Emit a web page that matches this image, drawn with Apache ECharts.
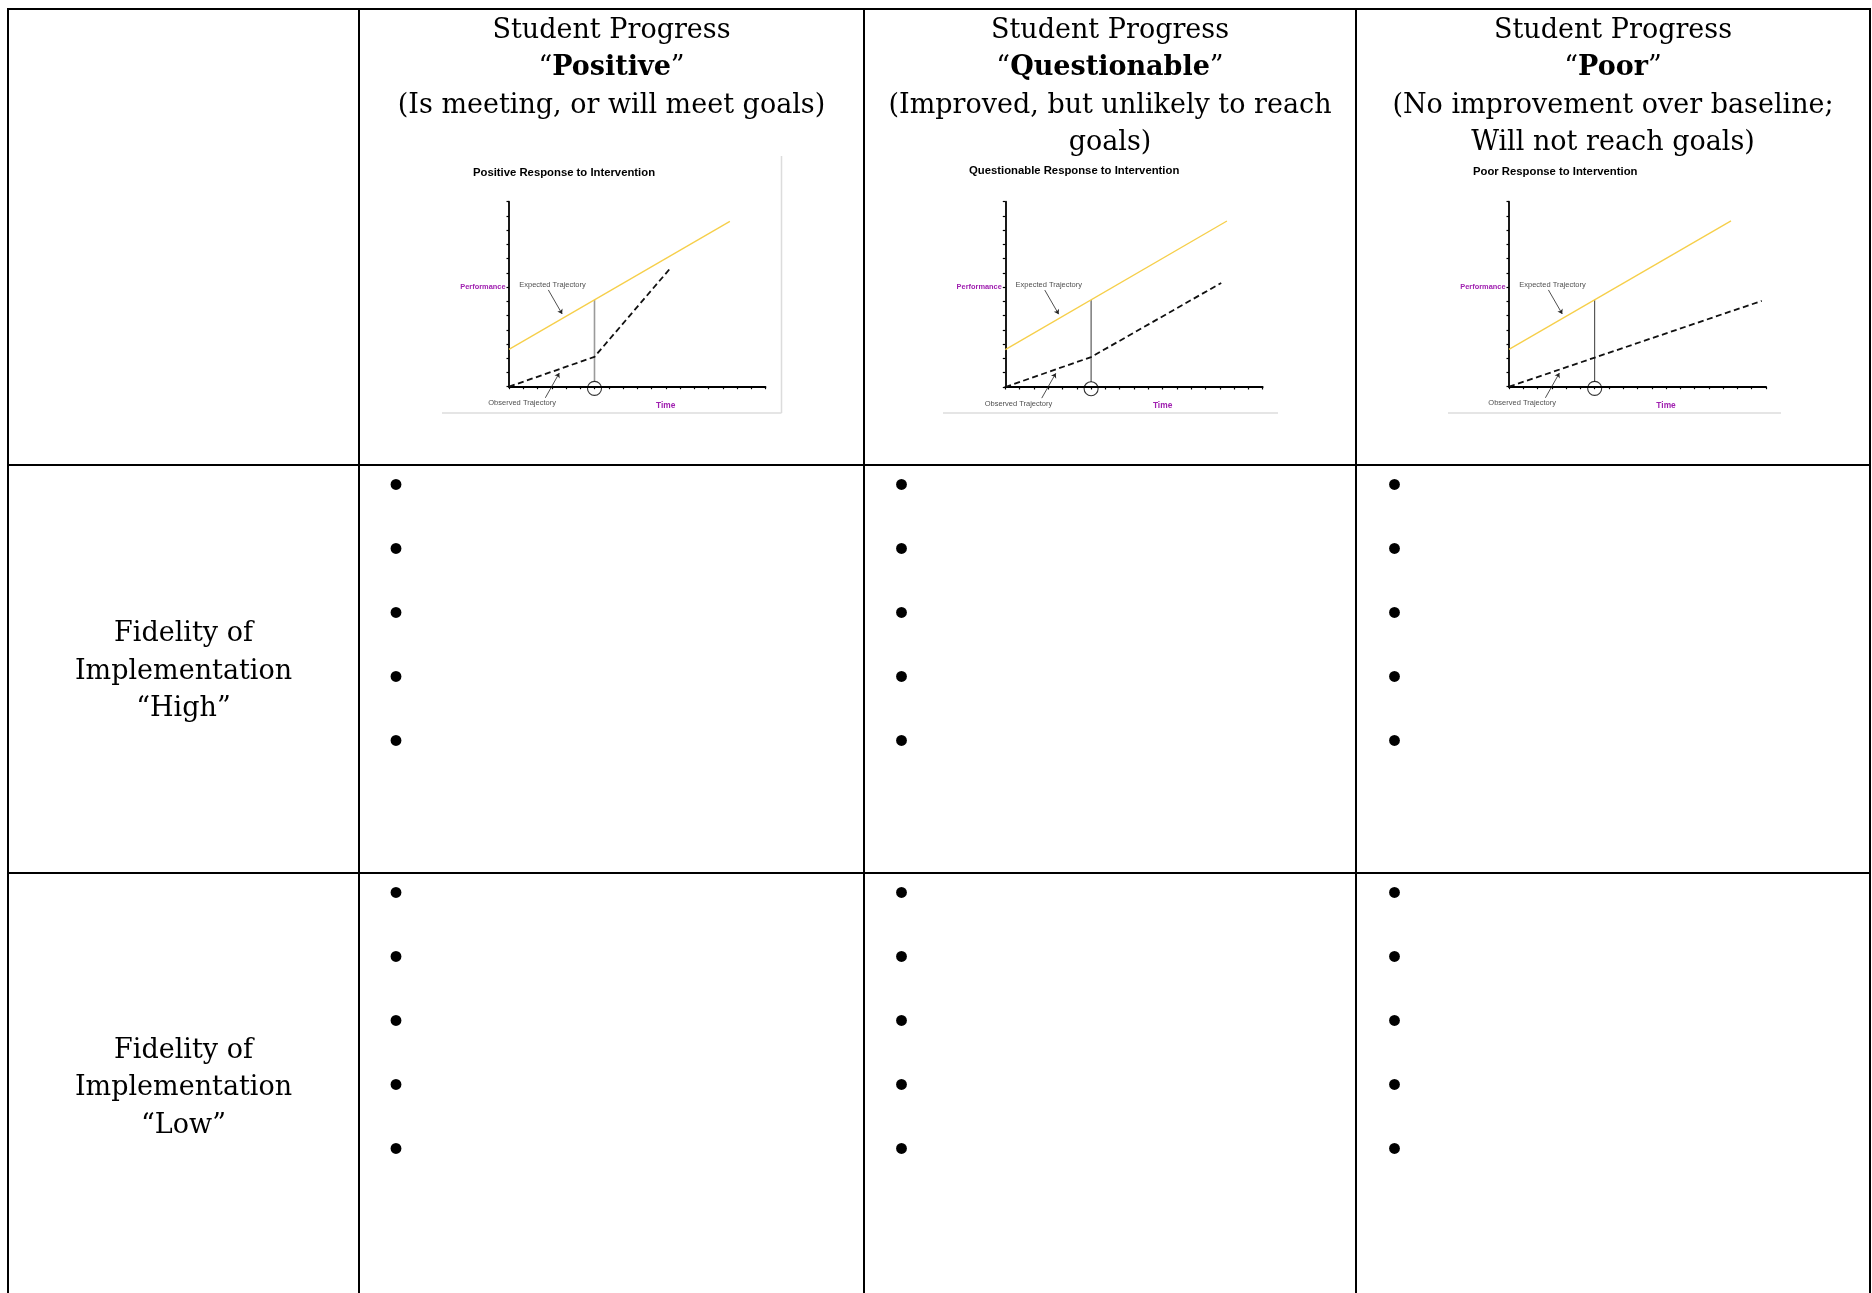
<!DOCTYPE html>
<html>
<head>
<meta charset="utf-8">
<script src="https://cdn.jsdelivr.net/npm/echarts@6/dist/echarts.min.js"></script>
<style>
html,body{margin:0;padding:0;background:#fff;}
#main{width:1872px;height:1293px;}
</style>
</head>
<body>
<div id="main"></div>
<script>
// ---------- data ----------
const headLine1 = 'Student Progress';
const columnHeads = ['Positive', 'Questionable', 'Poor'];
const headDesc = [
  ['(Is meeting, or will meet goals)'],
  ['(Improved, but unlikely to reach', 'goals)'],
  ['(No improvement over baseline;', 'Will not reach goals)']
];
const rowLabels = [
  ['Fidelity of', 'Implementation', '\u201cHigh\u201d'],
  ['Fidelity of', 'Implementation', '\u201cLow\u201d']
];
const bulletsPerCell = 5;

const chartTitles = ['Positive Response to Intervention', 'Questionable Response to Intervention', 'Poor Response to Intervention'];
const yTickLabels = {7: 'Performance'};
const xTickLabels = {11: 'Time'};
const expectedTrajectory = [
  [[0, 2.62], [15.5, 11.62]],
  [[0, 2.62], [15.5, 11.65]],
  [[0, 2.62], [15.55, 11.65]]
];
const observedTrajectory = [
  [[0, 0], [6, 2.1], [11.3, 8.3]],
  [[0, 0], [6, 2.1], [15.1, 7.3]],
  [[0, 0], [17.7, 6.03]]
];
const decisionLine = [[6, 0.35], [6, 6.1]];
const decisionCircle = [[6, -0.12]];
const expectedLabelPos = [[0.72, 7.17]];
const observedLabelPos = [[0.92, -1.17]];
const expectedArrow = [[2.76, 6.8], [3.73, 5.11]];
const observedArrow = [[2.55, -0.78], [3.53, 0.96]];

// ---------- layout ----------
const SERIF = '"DejaVu Serif", serif';
const SANS = '"Liberation Sans", Arial, sans-serif';
const PURPLE = '#a020b0';
const colX = [8, 359, 864, 1356, 1870];
const rowY = [9, 465, 873];
const grids = [
  {left: 509, top: 201.7, width: 256.5, height: 185},
  {left: 1005.3, top: 201.7, width: 257.4, height: 185.3},
  {left: 1509, top: 201.7, width: 257, height: 185}
];
const titlePos = [[473, 173], [969, 171], [1473, 172]];
const checkColor = ['#9a9a9a', '#222', '#222'];
const checkWidth = [1.6, 0.9, 0.9];

const graphic = [];
// table lines
colX.forEach(x => graphic.push({type: 'line', shape: {x1: x, y1: rowY[0] - 1, x2: x, y2: 1293}, style: {stroke: '#000', lineWidth: 2}, silent: true}));
rowY.forEach(y => graphic.push({type: 'line', shape: {x1: colX[0] - 1, y1: y, x2: colX[4] + 1, y2: y}, style: {stroke: '#000', lineWidth: 2}, silent: true}));

// header text
const lineY = [31.1, 68.1, 106.3, 143.3];
for (let c = 0; c < 3; c++) {
  const cx = (colX[c + 1] + colX[c + 2]) / 2;
  const lines = [headLine1, '\u201c{b|' + columnHeads[c] + '}\u201d'].concat(headDesc[c]);
  lines.forEach((t, i) => {
    graphic.push({type: 'text', silent: true, style: {
      text: t, x: cx, y: lineY[i], align: 'center', verticalAlign: 'middle',
      fill: '#000', fontFamily: SERIF, fontSize: 27,
      rich: {b: {fontFamily: SERIF, fontSize: 27, fontWeight: 'bold', fill: '#000'}}
    }});
  });
}
// row labels
const rowLabelY = [[634, 671.5, 709], [1050.5, 1088, 1125.5]];
rowLabels.forEach((lines, r) => {
  lines.forEach((t, i) => graphic.push({type: 'text', silent: true, style: {
    text: t, x: (colX[0] + colX[1]) / 2, y: rowLabelY[r][i], align: 'center', verticalAlign: 'middle',
    fill: '#000', fontFamily: SERIF, fontSize: 27
  }}));
});
// bullets
const bulletX = [396, 901.5, 1394.6];
const bulletY0 = [487.2, 895.2];
for (let r = 0; r < 2; r++) {
  for (let c = 0; c < 3; c++) {
    for (let k = 0; k < bulletsPerCell; k++) {
      graphic.push({type: 'text', silent: true, style: {
        text: '\u2022', x: bulletX[c], y: bulletY0[r] + k * 64, align: 'center', verticalAlign: 'middle',
        fill: '#000', fontFamily: SANS, fontSize: 40
      }});
    }
  }
}
// mini chart frames (picture edges)
graphic.push({type: 'line', shape: {x1: 781.5, y1: 156, x2: 781.5, y2: 413}, style: {stroke: '#dcdcdc', lineWidth: 1.5}, silent: true});
[[442, 781.5], [943, 1278], [1448, 1781]].forEach(s => graphic.push({type: 'line', shape: {x1: s[0], y1: 413, x2: s[1], y2: 413}, style: {stroke: '#dcdcdc', lineWidth: 1.5}, silent: true}));
// mini chart titles
chartTitles.forEach((t, i) => graphic.push({type: 'text', silent: true, style: {
  text: t, x: titlePos[i][0], y: titlePos[i][1], align: 'left', verticalAlign: 'middle',
  fill: '#000', fontFamily: SANS, fontSize: 11.3, fontWeight: 'bold'
}}));

const xAxis = [], yAxis = [], series = [];
for (let i = 0; i < 3; i++) {
  xAxis.push({
    type: 'value', gridIndex: i, min: 0, max: 18, interval: 1,
    axisLine: {show: true, onZero: false, lineStyle: {color: '#000', width: 1.8}},
    axisTick: {show: true, length: 2.5, lineStyle: {color: '#000', width: 1.2}},
    splitLine: {show: false},
    axisLabel: {show: true, formatter: v => xTickLabels[v] || '', margin: 14.5, color: PURPLE, fontFamily: SANS, fontWeight: 'bold', fontSize: 8.4, showMinLabel: true, showMaxLabel: true}
  });
  yAxis.push({
    type: 'value', gridIndex: i, min: 0, max: 13, interval: 1,
    axisLine: {show: true, onZero: false, lineStyle: {color: '#000', width: 1.8}},
    axisTick: {show: true, length: 2.5, lineStyle: {color: '#000', width: 1.2}},
    splitLine: {show: false},
    axisLabel: {show: true, formatter: v => yTickLabels[v] || '', margin: 3.5, color: PURPLE, fontFamily: SANS, fontWeight: 'bold', fontSize: 7.4}
  });
  const ax = {xAxisIndex: i, yAxisIndex: i, silent: true, animation: false};
  series.push(Object.assign({type: 'line', name: 'Expected Trajectory', data: expectedTrajectory[i], symbol: 'none',
    lineStyle: {color: '#f6cf4a', width: 1.3}, z: 3}, ax));
  series.push(Object.assign({type: 'line', name: 'Observed Trajectory', data: observedTrajectory[i], symbol: 'none',
    lineStyle: {color: '#111', width: 1.8, type: [6, 3.5]}, z: 3}, ax));
  series.push(Object.assign({type: 'line', name: 'Decision point', data: decisionLine, symbol: 'none',
    lineStyle: {color: checkColor[i], width: checkWidth[i]}, z: 2}, ax));
  series.push(Object.assign({type: 'scatter', name: 'Decision marker', data: decisionCircle, symbol: 'circle', symbolSize: 14, clip: false,
    itemStyle: {color: 'rgba(0,0,0,0)', borderColor: '#000', borderWidth: 1.1}, z: 4}, ax));
  series.push(Object.assign({type: 'scatter', name: 'Expected label', data: expectedLabelPos, symbolSize: 0, clip: false,
    label: {show: true, position: 'right', distance: 0, formatter: 'Expected Trajectory', color: '#222', fontFamily: SANS, fontSize: 7.5}}, ax));
  series.push(Object.assign({type: 'scatter', name: 'Observed label', data: observedLabelPos, symbolSize: 0, clip: false,
    label: {show: true, position: 'inside', formatter: 'Observed Trajectory', color: '#222', fontFamily: SANS, fontSize: 7.5}}, ax));
  series.push(Object.assign({type: 'lines', coordinateSystem: 'cartesian2d', name: 'Arrows', clip: false,
    data: [{coords: expectedArrow}, {coords: observedArrow}],
    symbol: ['none', 'arrow'], symbolSize: 4.5,
    lineStyle: {color: '#222', width: 0.8, curveness: 0, opacity: 1}, z: 5}, ax));
}

const chart = echarts.init(document.getElementById('main'), null, {renderer: 'canvas'});
chart.setOption({
  backgroundColor: '#fff',
  animation: false,
  grid: grids.map(g => Object.assign({containLabel: false}, g)),
  xAxis, yAxis, series, graphic
});
</script>
</body>
</html>
